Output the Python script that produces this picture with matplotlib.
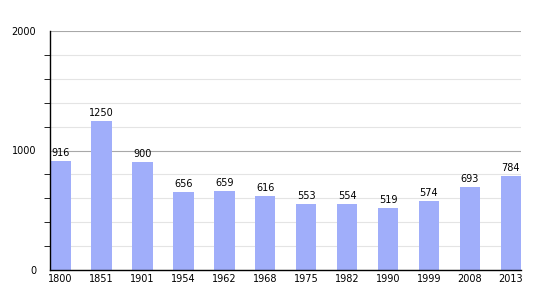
import numpy as np
import matplotlib
matplotlib.use("Agg")
import matplotlib.pyplot as plt
from matplotlib.ticker import MultipleLocator

years = ["1800", "1851", "1901", "1954", "1962", "1968", "1975", "1982", "1990", "1999", "2008", "2013"]
population = [916, 1250, 900, 656, 659, 616, 553, 554, 519, 574, 693, 784]

fig = plt.figure(figsize=(5.5, 3), dpi=100)
ax = fig.add_axes([50/550, 30/300, 471/550, 239/300])

x = np.arange(len(years))
ax.bar(x, population, width=0.5, color="#a0aefa", zorder=2)
for xi, v in zip(x, population):
    ax.text(xi, v + 25, str(v), ha="center", va="bottom", fontsize=7, zorder=3)

ax.set_xlim(-0.26, 11.25)
ax.set_ylim(0, 2000)
ax.set_xticks(x)
ax.set_xticklabels(years, fontsize=7)
ax.yaxis.set_major_locator(MultipleLocator(1000))
ax.yaxis.set_minor_locator(MultipleLocator(200))
ax.tick_params(axis="y", which="major", length=0, labelsize=7, pad=10)
ax.tick_params(axis="y", which="minor", length=4, direction="out")
ax.tick_params(axis="x", length=0, pad=3)
ax.grid(axis="y", which="major", color="#a8a8a8", lw=0.8, zorder=0)
ax.grid(axis="y", which="minor", color="#e4e4e4", lw=0.8, zorder=0)
for s in ["top", "right"]:
    ax.spines[s].set_visible(False)
ax.spines["left"].set_linewidth(1)
ax.spines["bottom"].set_linewidth(1)

fig.savefig("out.png", dpi=100)
